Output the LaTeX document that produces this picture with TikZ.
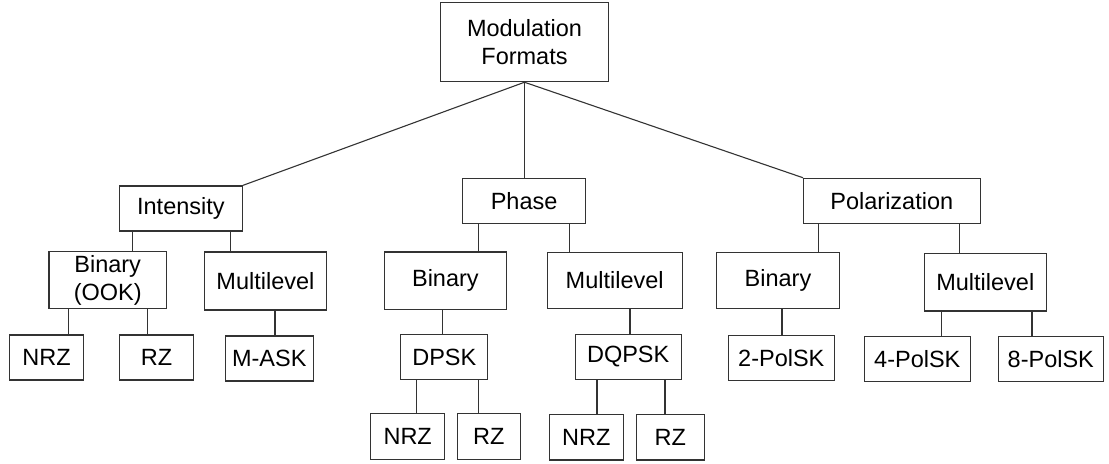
\documentclass[tikz,border=0pt]{standalone}
\usepackage{fontspec}
\setmainfont{Liberation Sans}
\begin{document}
\begin{tikzpicture}[x=0.5pt,y=-0.5pt,
  box/.style={draw=black!80,line width=0.55pt,rectangle,inner sep=0pt,
    align=center,font=\fontsize{11.75}{14}\selectfont},
  link/.style={draw=black!80,line width=0.55pt}]
\useasboundingbox (0,0) rectangle (1109,464);
% box: name, centre x, centre y, width, height, text
\newcommand\bx[6]{\node[box,minimum width=#4*0.5pt,minimum height=#5*0.5pt] (#1) at (#2,#3) {#6};}
% vertical connector from a parent's bottom edge to a child's top edge at abscissa x
\newcommand\vlink[3]{\coordinate (vx) at (#3,0); \draw[link] (#1.south -| vx) -- (#2.north -| vx);}

% root
\bx{root}{524.5}{42.2}{167.6}{79}{Modulation\\Formats}
% first level
\bx{int}{180.9}{208.5}{122.5}{45}{Intensity}
\bx{pha}{524.1}{200.8}{122.4}{45}{Phase}
\bx{pol}{891.8}{200.8}{176.5}{45}{Polarization}
% second level
\bx{ook}{107.7}{280}{117.5}{56.6}{Binary\\(OOK)}
\bx{iml}{265.4}{281}{122}{58}{Multilevel}
\bx{pbin}{445.4}{280.7}{122}{57.3}{Binary}
\bx{pml}{614.7}{280.5}{135.3}{55.6}{Multilevel}
\bx{qbin}{778}{280.5}{122.3}{55.6}{Binary}
\bx{qml}{985.3}{282.2}{122.5}{57.7}{Multilevel}
% third level
\bx{inrz}{46.6}{357.5}{74}{45}{NRZ}
\bx{irz}{156.6}{357.5}{74}{45}{RZ}
\bx{mask}{269.3}{358.5}{87.8}{45}{M-ASK}
\bx{dpsk}{444.3}{357}{87.2}{44.6}{DPSK}
\bx{dqpsk}{628.2}{356.8}{105.7}{45}{DQPSK}
\bx{p2}{781.3}{358.3}{106}{45.3}{2-PolSK}
\bx{p4}{917.3}{359.3}{106}{45.3}{4-PolSK}
\bx{p8}{1050.8}{359}{105}{45.4}{8-PolSK}
% fourth level
\bx{dnrz}{407.7}{436.5}{73.9}{45.6}{NRZ}
\bx{drz}{488.8}{436.5}{63.3}{45.6}{RZ}
\bx{qnrz}{586.3}{437.2}{74}{45.7}{NRZ}
\bx{qrz}{670.2}{437.2}{67.7}{45.7}{RZ}

% root fan-out
\draw[link] (root.south) -- (int.north east);
\draw[link] (root.south) -- (root.south |- pha.north);
\draw[link] (root.south) -- (pol.north west);

% tree branches
\vlink{int}{ook}{132.5}
\vlink{int}{iml}{230.4}
\vlink{ook}{inrz}{68.9}
\vlink{ook}{irz}{147.5}
\vlink{iml}{mask}{275}
\vlink{pha}{pbin}{478.6}
\vlink{pha}{pml}{569.8}
\vlink{pbin}{dpsk}{442.9}
\vlink{dpsk}{dnrz}{416.4}
\vlink{dpsk}{drz}{478.6}
\vlink{pml}{dqpsk}{630}
\vlink{dqpsk}{qnrz}{597}
\vlink{dqpsk}{qrz}{665}
\vlink{pol}{qbin}{818.4}
\vlink{pol}{qml}{959.3}
\vlink{qbin}{p2}{782}
\vlink{qml}{p4}{941.8}
\vlink{qml}{p8}{1032}
\end{tikzpicture}
\end{document}
